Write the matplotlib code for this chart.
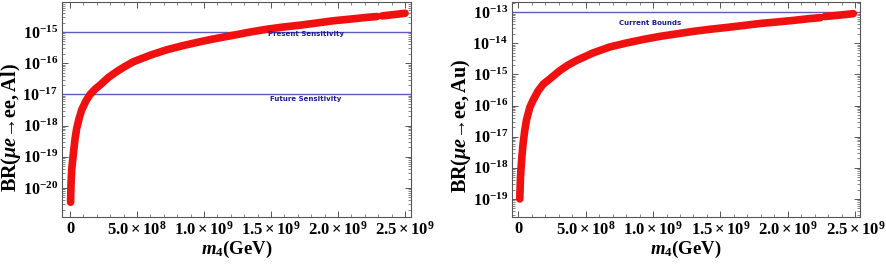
import matplotlib
matplotlib.use("Agg")
import numpy as np
import matplotlib.pyplot as plt
from matplotlib.ticker import LogLocator, MultipleLocator, FixedLocator, FixedFormatter, NullFormatter

plt.rcParams['font.family'] = ['Liberation Serif', 'DejaVu Serif']
plt.rcParams['font.weight'] = 'bold'
plt.rcParams['mathtext.fontset'] = 'custom'
plt.rcParams['mathtext.rm'] = 'Liberation Serif:bold'
plt.rcParams['mathtext.bf'] = 'Liberation Serif:bold'
plt.rcParams['mathtext.it'] = 'Liberation Serif:italic:bold'

# left panel: BR(mu e -> e e, Al) vs m4 (GeV)
m4_al = [4e6, 7e6, 1.24e7, 2.49e7, 3.73e7, 4.98e7, 6.72e7, 8.71e7, 1.17e8, 1.49e8,
         1.87e8, 2.24e8, 2.86e8, 3.48e8, 4.10e8, 4.73e8, 5.97e8, 7.21e8, 8.46e8,
         9.70e8, 1.095e9, 1.219e9, 1.343e9, 1.468e9, 1.592e9, 1.716e9, 1.841e9,
         1.965e9, 2.09e9, 2.214e9, 2.29e9, np.nan, 2.33e9, 2.41e9, 2.5e9]
br_al = [3.5e-21, 1.3e-20, 4.0e-20, 1.3e-19, 3.8e-19, 8.3e-19, 1.66e-18, 3.2e-18,
         6.0e-18, 1.0e-17, 1.48e-17, 2.0e-17, 3.5e-17, 5.4e-17, 7.9e-17, 1.12e-16,
         1.8e-16, 2.7e-16, 3.7e-16, 4.9e-16, 6.3e-16, 7.9e-16, 1.0e-15, 1.23e-15,
         1.45e-15, 1.66e-15, 1.95e-15, 2.3e-15, 2.6e-15, 2.95e-15, 3.15e-15, np.nan,
         3.3e-15, 3.6e-15, 4.0e-15]
present_al = 1e-15
future_al = 1e-17
yticks_al = [1e-20, 1e-19, 1e-18, 1e-17, 1e-16, 1e-15]
ylabels_al = [r'$10^{-20}$', r'$10^{-19}$', r'$10^{-18}$', r'$10^{-17}$', r'$10^{-16}$', r'$10^{-15}$']

# right panel: BR(mu e -> e e, Au)
m4_au = [1.2e7, 1.7e7, 2.7e7, 3.7e7, 4.9e7, 6.2e7, 8.7e7, 1.11e8, 1.48e8, 1.85e8,
         2.47e8, 3.09e8, 3.71e8, 4.33e8, 5.56e8, 6.80e8, 8.04e8, 9.27e8, 1.051e9,
         1.175e9, 1.298e9, 1.422e9, 1.545e9, 1.669e9, 1.793e9, 1.916e9, 2.04e9,
         2.164e9, 2.24e9, np.nan, 2.275e9, 2.386e9, 2.485e9]
br_au = [1.0e-19, 5.0e-19, 2.2e-18, 6.3e-18, 1.6e-17, 3.5e-17, 8.9e-17, 1.5e-16,
         2.95e-16, 4.8e-16, 7.9e-16, 1.32e-15, 2.0e-15, 2.8e-15, 4.9e-15, 7.6e-15,
         1.02e-14, 1.32e-14, 1.66e-14, 2.0e-14, 2.4e-14, 2.8e-14, 3.2e-14, 3.7e-14,
         4.3e-14, 4.8e-14, 5.4e-14, 6.2e-14, 6.6e-14, np.nan, 7.2e-14, 8.0e-14, 8.9e-14]
current_au = 1e-13
yticks_au = [1e-19, 1e-18, 1e-17, 1e-16, 1e-15, 1e-14, 1e-13]
ylabels_au = [r'$10^{-19}$', r'$10^{-18}$', r'$10^{-17}$', r'$10^{-16}$', r'$10^{-15}$',
              r'$10^{-14}$', r'$10^{-13}$']

xticks = [0, 5e8, 1e9, 1.5e9, 2e9, 2.5e9]
xticklabels = ['0', r'$5.0\times10^{8}$', r'$1.0\times10^{9}$', r'$1.5\times10^{9}$',
               r'$2.0\times10^{9}$', r'$2.5\times10^{9}$']

red = '#f01010'
blue_line = '#5c5cc4'
blue_text = '#1c1c90'
frame = '#555555'


def style_axes(ax, ylim, yt, ytl, ylabel, xlim, label_xy):
    ax.set_yscale('log')
    ax.set_xlim(*xlim)
    ax.set_ylim(*ylim)
    ax.xaxis.set_major_locator(FixedLocator(xticks))
    ax.xaxis.set_major_formatter(FixedFormatter(xticklabels))
    ax.xaxis.set_minor_locator(MultipleLocator(1e8))
    ax.yaxis.set_major_locator(FixedLocator(yt))
    ax.yaxis.set_major_formatter(FixedFormatter(ytl))
    ax.yaxis.set_minor_locator(LogLocator(base=10, subs=np.arange(2, 10), numticks=20))
    ax.yaxis.set_minor_formatter(NullFormatter())
    ax.tick_params(which='both', direction='in', top=True, right=True,
                   color=frame, pad=3)
    ax.tick_params(axis='x', labelsize=12)
    ax.tick_params(axis='y', labelsize=11.5)
    ax.tick_params(which='major', length=4, width=0.7)
    ax.tick_params(which='minor', length=2, width=0.5)
    for s in ax.spines.values():
        s.set_color(frame)
        s.set_linewidth(0.8)
    ax.set_xlabel(r'$m_4\mathrm{(GeV)}$', fontsize=13.5, labelpad=0)
    ax.set_ylabel(ylabel, fontsize=14.5)
    ax.yaxis.set_label_coords(*label_xy)


fig = plt.figure(figsize=(8.86, 2.64), dpi=100)
ax1 = fig.add_axes([0.070, 0.178, 0.394, 0.814])
ax2 = fig.add_axes([0.578, 0.178, 0.393, 0.814])

# left
ax1.axhline(present_al, color=blue_line, lw=1.0)
ax1.axhline(future_al, color=blue_line, lw=1.0)
ax1.plot(m4_al, br_al, color=red, lw=5.5, solid_capstyle='round', solid_joinstyle='round')
ax1.text(1.76e9, present_al * 10**-0.07, 'Present Sensitivity', color=blue_text,
         fontsize=5, family='DejaVu Sans', ha='center', va='center', weight='bold')
ax1.text(1.76e9, future_al * 10**-0.15, 'Future Sensitivity', color=blue_text,
         fontsize=5, family='DejaVu Sans', ha='center', va='center', weight='bold')
style_axes(ax1, (10**-20.93, 10**-14.04), yticks_al, ylabels_al,
           r'$\mathrm{BR(}\mu e\mathrm{→ee,Al)}$', (-0.06e9, 2.545e9), (-0.112, 0.414))

# right
ax2.axhline(current_au, color=blue_line, lw=1.0)
ax2.plot(m4_au, br_au, color=red, lw=5.5, solid_capstyle='round', solid_joinstyle='round')
ax2.text(0.98e9, current_au * 10**-0.35, 'Current Bounds', color=blue_text,
         fontsize=5, family='DejaVu Sans', ha='center', va='center', weight='bold')
style_axes(ax2, (10**-19.58, 10**-12.68), yticks_au, ylabels_au,
           r'$\mathrm{BR(}\mu e\mathrm{→ee,Au)}$', (-0.045e9, 2.537e9), (-0.113, 0.423))

fig.savefig('out.png', dpi=100)
